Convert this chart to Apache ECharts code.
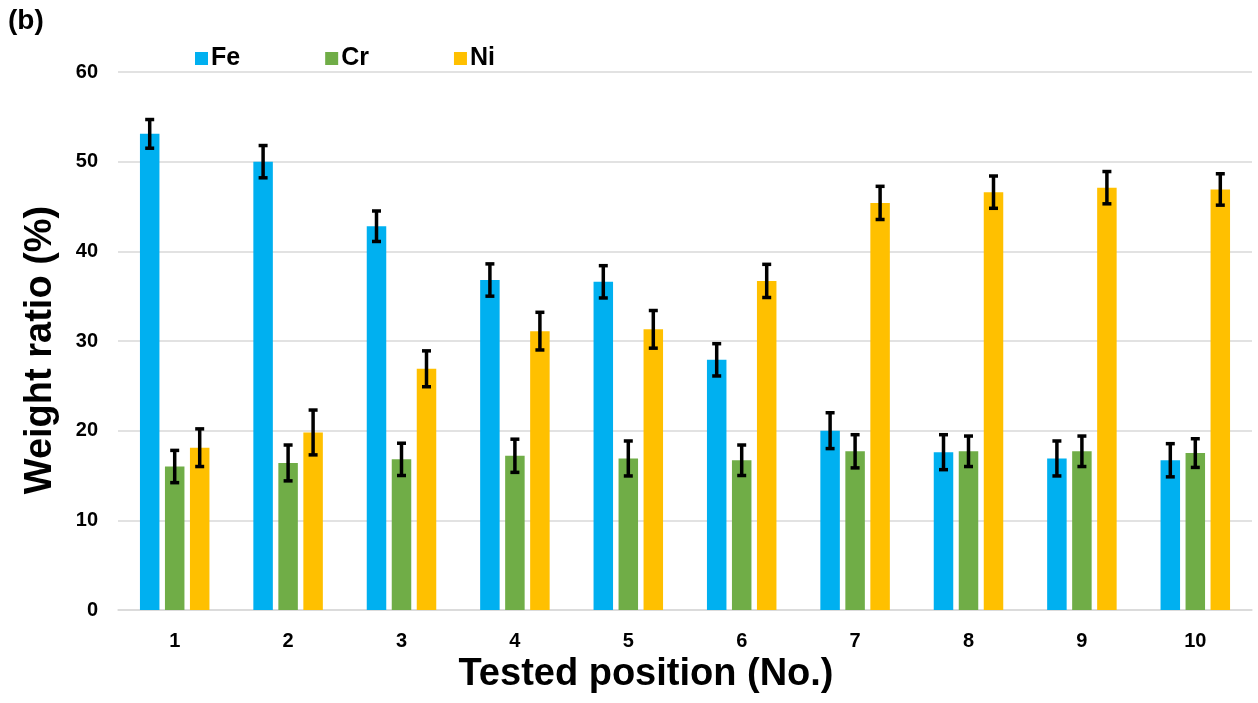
<!DOCTYPE html>
<html>
<head>
<meta charset="utf-8">
<script src="https://cdn.jsdelivr.net/npm/echarts@6/dist/echarts.min.js"></script>
<style>
  html, body { margin: 0; padding: 0; background: #fff; }
  #chart { width: 1258px; height: 703px; }
</style>
</head>
<body>
<div id="chart"></div>
<script>
// tested positions
var positions = ['1', '2', '3', '4', '5', '6', '7', '8', '9', '10']

// weight ratio (%)
var fe = [53.1, 50.0, 42.8, 36.8, 36.6, 27.9, 20.0, 17.6, 16.9, 16.7]
var cr = [16.0, 16.4, 16.8, 17.2, 16.9, 16.7, 17.7, 17.7, 17.7, 17.5]
var ni = [18.1, 19.8, 26.9, 31.1, 31.3, 36.7, 45.4, 46.6, 47.1, 46.9]

// error bar half widths
var feErr = [1.6, 1.8, 1.7, 1.8, 1.8, 1.8, 2.0, 1.95, 1.95, 1.85]
var crErr = [1.8, 2.0, 1.8, 1.85, 1.95, 1.7, 1.85, 1.7, 1.7, 1.6]
var niErr = [2.1, 2.5, 2.0, 2.1, 2.1, 1.85, 1.85, 1.8, 1.8, 1.75]

var yTicks = [0, 10, 20, 30, 40, 50, 60]

var FONT = '"Liberation Sans", Arial, sans-serif'
var BAR_W = 19.5
var BAR_GAP = 5.5

function errData(vals, errs) {
  return vals.map(function (v, i) {
    return [i, v - errs[i], v + errs[i]]
  })
}

function errSeries(name, vals, errs, slot) {
  return {
    name: name,
    type: 'custom',
    z: 10,
    silent: true,
    data: errData(vals, errs),
    renderItem: function (params, api) {
      var shift = (slot - 1) * (BAR_W + BAR_GAP)
      var lo = api.coord([api.value(0), api.value(1)])
      var hi = api.coord([api.value(0), api.value(2)])
      var x = lo[0] + shift
      var cap = 4.5
      var st = { stroke: '#000', lineWidth: 3.5 }
      return {
        type: 'group',
        children: [
          { type: 'line', shape: { x1: x, y1: lo[1], x2: x, y2: hi[1] }, style: st },
          { type: 'line', shape: { x1: x - cap, y1: lo[1], x2: x + cap, y2: lo[1] }, style: st },
          { type: 'line', shape: { x1: x - cap, y1: hi[1], x2: x + cap, y2: hi[1] }, style: st }
        ]
      }
    }
  }
}

var chart = echarts.init(document.getElementById('chart'))

chart.setOption({
  animation: false,
  textStyle: { fontFamily: FONT },
  graphic: [{
    type: 'text',
    left: 8,
    top: 7,
    style: { text: '(b)', font: 'bold 28px ' + FONT, fill: '#000' }
  }],
  legend: {
    data: ['Fe', 'Cr', 'Ni'],
    left: 190,
    top: 41,
    itemWidth: 13,
    itemHeight: 13,
    itemGap: 85,
    icon: 'rect',
    textStyle: { fontSize: 25, fontWeight: 'bold', color: '#000', fontFamily: FONT, padding: [0, 0, 0, -2] }
  },
  grid: {
    left: 118,
    right: 6,
    top: 72,
    bottom: 93,
    outerBoundsMode: 'none'
  },
  xAxis: {
    type: 'category',
    data: positions,
    name: 'Tested position (No.)',
    nameLocation: 'middle',
    nameGap: 40,
    nameTextStyle: { fontSize: 38, fontWeight: 'bold', color: '#000', fontFamily: FONT, padding: [0, 78, 0, 0] },
    axisLine: { lineStyle: { color: '#d9d9d9', width: 1.5 } },
    axisTick: { show: false },
    axisLabel: { fontSize: 20, fontWeight: 'bold', color: '#000', margin: 21, fontFamily: FONT }
  },
  yAxis: {
    type: 'value',
    min: yTicks[0],
    max: yTicks[yTicks.length - 1],
    interval: 10,
    name: 'Weight ratio (%)',
    nameLocation: 'middle',
    nameGap: 58,
    nameTextStyle: { fontSize: 38, fontWeight: 'bold', color: '#000', fontFamily: FONT, padding: [0, 18, 0, 0] },
    axisLine: { show: false },
    axisTick: { show: false },
    splitLine: { lineStyle: { color: '#d9d9d9', width: 1.5 } },
    axisLabel: { fontSize: 20, fontWeight: 'bold', color: '#000', margin: 20, fontFamily: FONT }
  },
  series: [
    { name: 'Fe', type: 'bar', data: fe, barWidth: BAR_W, barGap: (BAR_GAP / BAR_W * 100) + '%', itemStyle: { color: '#00b0f0' } },
    { name: 'Cr', type: 'bar', data: cr, barWidth: BAR_W, barGap: (BAR_GAP / BAR_W * 100) + '%', itemStyle: { color: '#70ad47' } },
    { name: 'Ni', type: 'bar', data: ni, barWidth: BAR_W, barGap: (BAR_GAP / BAR_W * 100) + '%', itemStyle: { color: '#ffc000' } },
    errSeries('Fe err', fe, feErr, 0),
    errSeries('Cr err', cr, crErr, 1),
    errSeries('Ni err', ni, niErr, 2)
  ]
})
</script>
</body>
</html>
